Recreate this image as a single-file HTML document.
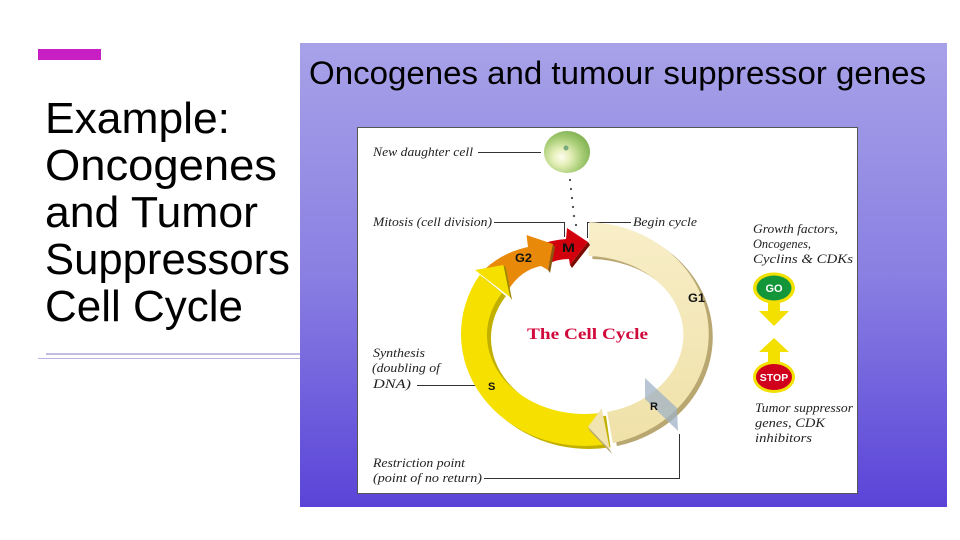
<!DOCTYPE html>
<html><head><meta charset="utf-8"><style>
html,body{margin:0;padding:0;background:#fff;width:960px;height:540px;overflow:hidden}
svg{display:block}
.lb{font-family:"Liberation Serif",serif;font-style:italic;font-size:13px;fill:#222}
.ph{font-family:"Liberation Sans",sans-serif;font-weight:bold;fill:#111}
</style></head><body>
<svg width="960" height="540" viewBox="0 0 960 540" xmlns="http://www.w3.org/2000/svg">
<defs>
<linearGradient id="pg" x1="0" y1="0" x2="0" y2="1">
<stop offset="0" stop-color="#a7a2e8"/><stop offset="0.5" stop-color="#8a7fe2"/><stop offset="1" stop-color="#5a44d8"/>
</linearGradient>
<radialGradient id="cell" cx="0.38" cy="0.62" r="0.65">
<stop offset="0" stop-color="#fffdf0"/><stop offset="0.3" stop-color="#e4efb8"/><stop offset="0.7" stop-color="#a6cc74"/><stop offset="1" stop-color="#84b456"/>
</radialGradient>
<linearGradient id="cream" x1="0" y1="0" x2="0" y2="1">
<stop offset="0" stop-color="#f8eec8"/><stop offset="1" stop-color="#efe1a8"/>
</linearGradient>
</defs>
<!-- left -->
<rect x="38" y="49" width="63" height="11" fill="#c71fc4"/>
<g font-family="'Liberation Sans',sans-serif" font-size="44" fill="#000">
<text x="45" y="133" textLength="185" lengthAdjust="spacingAndGlyphs">Example:</text>
<text x="45" y="180" textLength="232" lengthAdjust="spacingAndGlyphs">Oncogenes</text>
<text x="45" y="227" textLength="213" lengthAdjust="spacingAndGlyphs">and Tumor</text>
<text x="45" y="274" textLength="245" lengthAdjust="spacingAndGlyphs">Suppressors</text>
<text x="45" y="321" textLength="198" lengthAdjust="spacingAndGlyphs">Cell Cycle</text>
</g>
<rect x="46" y="353" width="254" height="2" fill="#c4bce4"/>
<rect x="38" y="358" width="262" height="1" fill="#b8b0e0"/>
<!-- panel -->
<rect x="300" y="43" width="647" height="464" fill="url(#pg)"/>
<text x="309" y="84" font-family="'Liberation Sans',sans-serif" font-size="32" fill="#000" textLength="617" lengthAdjust="spacingAndGlyphs">Oncogenes and tumour suppressor genes</text>
<rect x="357.5" y="127.5" width="500" height="366" fill="#fff" stroke="#555" stroke-width="1"/>
<!-- daughter cell -->
<ellipse cx="567" cy="152" rx="23" ry="21" fill="url(#cell)"/>
<circle cx="566" cy="148" r="2.5" fill="#78aa80"/>
<g fill="#444">
<circle cx="570" cy="180" r="1.1"/><circle cx="571" cy="189" r="1.1"/><circle cx="572" cy="198" r="1.1"/><circle cx="573" cy="207" r="1.1"/><circle cx="574" cy="216" r="1.1"/><circle cx="576" cy="225" r="1.1"/>
</g>
<!-- connectors -->
<g stroke="#333" stroke-width="1" fill="none">
<path d="M478 152.5H541"/>
<path d="M494 222.5H564.5V237"/>
<path d="M631 222.5H587.5V238"/>
<path d="M417 385.5H487"/>
<path d="M484 478.5H679.5V434"/>
</g>
<!-- ring shadows -->
<g transform="translate(4,3)">
<path d="M589.3 222.1 A124 112 0 0 1 612.9 443.1 L607.1 412 A98 79 0 0 0 588.4 256 Z" fill="#b9a772"/>
<path d="M606.5 444.3 A124 112 0 0 1 479.8 274.7 L501.9 293.1 A98 79 0 0 0 602 412.8 Z" fill="#c2b000"/>
</g>
<!-- yellow S -->
<path d="M606.5 444.3 A124 112 0 0 1 479.8 274.7 L501.9 293.1 A98 79 0 0 0 602 412.8 Z" fill="#f6e000"/>
<!-- cream G1 -->
<path d="M589.3 222.1 A124 112 0 0 1 612.9 443.1 L607.1 412 A98 79 0 0 0 588.4 256 Z" fill="url(#cream)"/>
<polygon points="610,450 588,427 601.7,408.3" fill="#f1e4b0"/>
<polygon points="588,427 610,450 612,454 590,431" fill="#b5a574"/>
<!-- red M -->
<path d="M538 245 Q552 240 566 239 L567 228 L588 242 L570 265 L569 259 Q556 259 546 265 Z" fill="#d2000c"/>
<polygon points="588,242 570,265 572,268 590,245" fill="#7a0a00"/>
<!-- orange G2 -->
<path d="M486 268 Q504 252 528 247 L526.5 235 L553 244 L548 270 L541 266 Q520 270 507 292 Z" fill="#e8890a"/>
<polygon points="553,244 548,270 550,273 555,247" fill="#8a5a10"/>
<!-- yellow arrowhead -->
<polygon points="475,270 503.5,265 510,297" fill="#f6e000"/>
<polygon points="503.5,265 510,297 512,300 506,268" fill="#9a8a00"/>
<!-- R plane -->
<polygon points="645,378 677,408 678,431 645,399" fill="#9fb2c6" fill-opacity="0.75"/>
<!-- phase labels -->
<text class="ph" x="688" y="302" font-size="12" textLength="17" lengthAdjust="spacingAndGlyphs">G1</text>
<text class="ph" x="488" y="390" font-size="11">S</text>
<text class="ph" x="650" y="410" font-size="11">R</text>
<text class="ph" x="515" y="262" font-size="12" textLength="17" lengthAdjust="spacingAndGlyphs">G2</text>
<text class="ph" x="562" y="252" font-size="12" textLength="13" lengthAdjust="spacingAndGlyphs">M</text>
<text x="527" y="339" font-family="'Liberation Serif',serif" font-weight="bold" font-size="16" fill="#d10a3c" textLength="121" lengthAdjust="spacingAndGlyphs">The Cell Cycle</text>
<!-- italic labels -->
<text class="lb" x="373" y="156" textLength="100" lengthAdjust="spacingAndGlyphs">New daughter cell</text>
<text class="lb" x="373" y="226" textLength="119" lengthAdjust="spacingAndGlyphs">Mitosis (cell division)</text>
<text class="lb" x="633" y="226" textLength="64" lengthAdjust="spacingAndGlyphs">Begin cycle</text>
<text class="lb" x="373" y="357" textLength="52" lengthAdjust="spacingAndGlyphs">Synthesis</text>
<text class="lb" x="372" y="372" textLength="68" lengthAdjust="spacingAndGlyphs">(doubling of</text>
<text class="lb" x="373" y="388" textLength="38" lengthAdjust="spacingAndGlyphs">DNA)</text>
<text class="lb" x="373" y="467" textLength="92" lengthAdjust="spacingAndGlyphs">Restriction point</text>
<text class="lb" x="373" y="482" textLength="109" lengthAdjust="spacingAndGlyphs">(point of no return)</text>
<text class="lb" x="753" y="233" textLength="85" lengthAdjust="spacingAndGlyphs">Growth factors,</text>
<text class="lb" x="753" y="248" textLength="58" lengthAdjust="spacingAndGlyphs">Oncogenes,</text>
<text class="lb" x="753" y="263" textLength="100" lengthAdjust="spacingAndGlyphs">Cyclins &amp; CDKs</text>
<text class="lb" x="755" y="412" textLength="98" lengthAdjust="spacingAndGlyphs">Tumor suppressor</text>
<text class="lb" x="755" y="427" textLength="70" lengthAdjust="spacingAndGlyphs">genes, CDK</text>
<text class="lb" x="755" y="442" textLength="57" lengthAdjust="spacingAndGlyphs">inhibitors</text>
<!-- GO / STOP -->
<ellipse cx="774" cy="288" rx="21" ry="15.5" fill="#f2e000"/>
<ellipse cx="774" cy="288" rx="17.5" ry="12.5" fill="#13963a"/>
<text x="774" y="292" text-anchor="middle" font-family="'Liberation Sans',sans-serif" font-weight="bold" font-size="11" fill="#fff">GO</text>
<polygon points="768,302 780,302 780,311 789,311 774,326 759,311 768,311" fill="#f4e000"/>
<polygon points="774,338 789,352 780,352 780,364 768,364 768,352 759,352" fill="#f4e000"/>
<ellipse cx="774" cy="377" rx="21" ry="16" fill="#f2e000"/>
<ellipse cx="774" cy="377" rx="18" ry="13" fill="#d0001c"/>
<text x="774" y="381" text-anchor="middle" font-family="'Liberation Sans',sans-serif" font-weight="bold" font-size="10.5" fill="#fff">STOP</text>
</svg>
</body></html>
